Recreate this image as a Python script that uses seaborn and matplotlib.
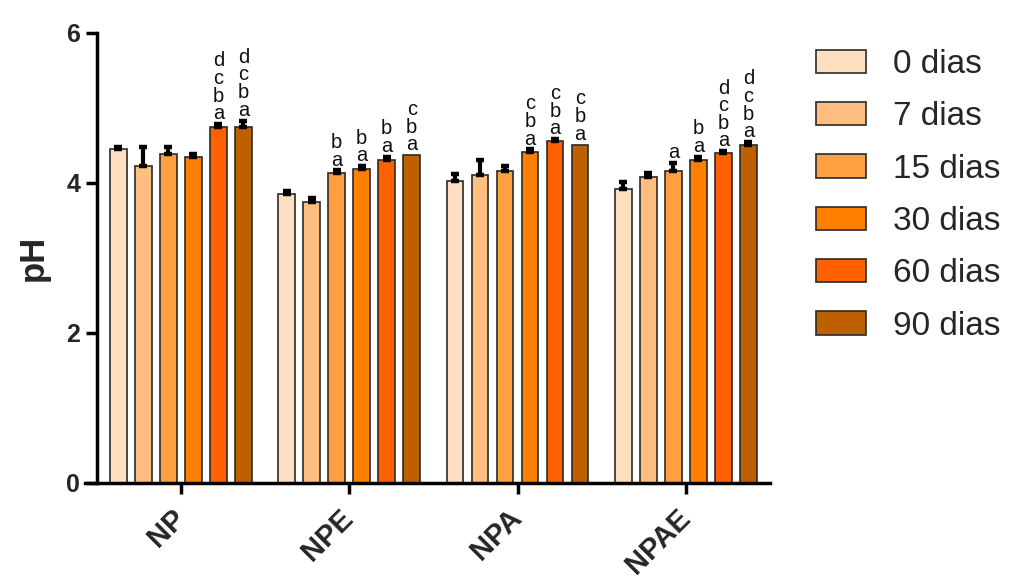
import matplotlib
matplotlib.use("Agg")
import matplotlib.pyplot as plt
import numpy as np
import pandas as pd
import seaborn as sns

# ---------------- data ----------------
groups = ["NP", "NPE", "NPA", "NPAE"]
days = ["0 dias", "7 dias", "15 dias", "30 dias", "60 dias", "90 dias"]

ph_np = [4.45, 4.23, 4.39, 4.34, 4.75, 4.75]
ph_npe = [3.85, 3.75, 4.13, 4.19, 4.30, 4.37]
ph_npa = [4.03, 4.11, 4.16, 4.41, 4.56, 4.51]
ph_npae = [3.92, 4.08, 4.16, 4.30, 4.40, 4.51]

sd_np = [0.03, 0.25, 0.09, 0.04, 0.03, 0.08]
sd_npe = [0.035, 0.045, 0.035, 0.03, 0.045, 0.0]
sd_npa = [0.09, 0.20, 0.06, 0.035, 0.02, 0.0]
sd_npae = [0.09, 0.045, 0.11, 0.045, 0.02, 0.03]

letters_np = ["", "", "", "", "abcd", "abcd"]
letters_npe = ["", "", "ab", "ab", "ab", "abc"]
letters_npa = ["", "", "", "abc", "abc", "abc"]
letters_npae = ["", "", "a", "ab", "abcd", "abcd"]

colors = ["#FFDFC0", "#FFBF80", "#FFA040", "#FF8000", "#FF6000", "#BF6000"]

y_ticks = [0, 2, 4, 6]

# ---------------- table ----------------
rows = []
for g, ph, sd, let in [("NP", ph_np, sd_np, letters_np),
                       ("NPE", ph_npe, sd_npe, letters_npe),
                       ("NPA", ph_npa, sd_npa, letters_npa),
                       ("NPAE", ph_npae, sd_npae, letters_npae)]:
    for d, v, s, l in zip(days, ph, sd, let):
        rows.append({"group": g, "day": d, "ph": v, "sd": s, "letters": l})
df = pd.DataFrame(rows)

# ---------------- style ----------------
sns.set_theme(style="ticks")
plt.rcParams["font.family"] = ["Liberation Sans", "DejaVu Sans"]

fig = plt.figure(figsize=(10.13, 5.80), dpi=100)
ax = fig.add_axes([85 / 1013, 1 - 483 / 580, 685 / 1013, (483 - 32.7) / 580])

sns.barplot(data=df, x="group", y="ph", hue="day", order=groups, hue_order=days,
            palette=colors, width=0.891, gap=0.33, saturation=1, errorbar=None,
            edgecolor="#2a2a2a", linewidth=1.2, ax=ax, zorder=2)

bar_containers = list(ax.containers)

# error bars (upper only) and significance letters
for i, cont in enumerate(bar_containers):
    for j, bar in enumerate(cont):
        rec = df[(df["group"] == groups[j]) & (df["day"] == days[i])].iloc[0]
        x = bar.get_x() + bar.get_width() / 2
        h = bar.get_height()
        s = rec["sd"]
        if s > 0:
            ax.errorbar([x], [h], yerr=[[0], [s]], fmt="none", ecolor="black",
                        elinewidth=3.0, capsize=3.0, capthick=3.2, zorder=3)
        for k, ch in enumerate(rec["letters"]):
            ax.annotate(ch, xy=(x, h + s), xytext=(0, 3.5 + k * 12.7),
                        textcoords="offset points", ha="center", va="baseline",
                        fontsize=14.5, color="#111111", zorder=4)

for side in ["top", "right"]:
    ax.spines[side].set_visible(False)
ax.spines["left"].set_position(("data", -0.5))
for side in ["left", "bottom"]:
    ax.spines[side].set_linewidth(2.5)
    ax.spines[side].set_color("black")

ax.set_ylim(0, 6)
ax.set_xlim(-0.57, 3.5)
ax.set_yticks(y_ticks)
ax.set_yticklabels([str(t) for t in y_ticks], fontsize=18, fontweight="bold")
ax.set_xticks(range(len(groups)))
ax.set_xticklabels(groups, fontsize=21, fontweight="bold", rotation=45,
                   ha="right", va="center", rotation_mode="anchor")
ax.set_xlabel("")
ax.set_ylabel("pH", fontsize=25, fontweight="bold", labelpad=12)

ax.tick_params(axis="both", width=2.5, length=8, color="black", pad=4)
ax.tick_params(axis="x", pad=14)
ax.grid(False)

handles, labels = ax.get_legend_handles_labels()
ax.legend(handles, labels, loc="upper left",
          bbox_to_anchor=(816 / 1013, 1 - 49 / 580), bbox_transform=fig.transFigure,
          frameon=False, fontsize=24, handlelength=1.5, handleheight=0.7,
          handletextpad=0.8, labelspacing=0.64, borderpad=0, borderaxespad=0)

fig.savefig("out.png", dpi=100)
